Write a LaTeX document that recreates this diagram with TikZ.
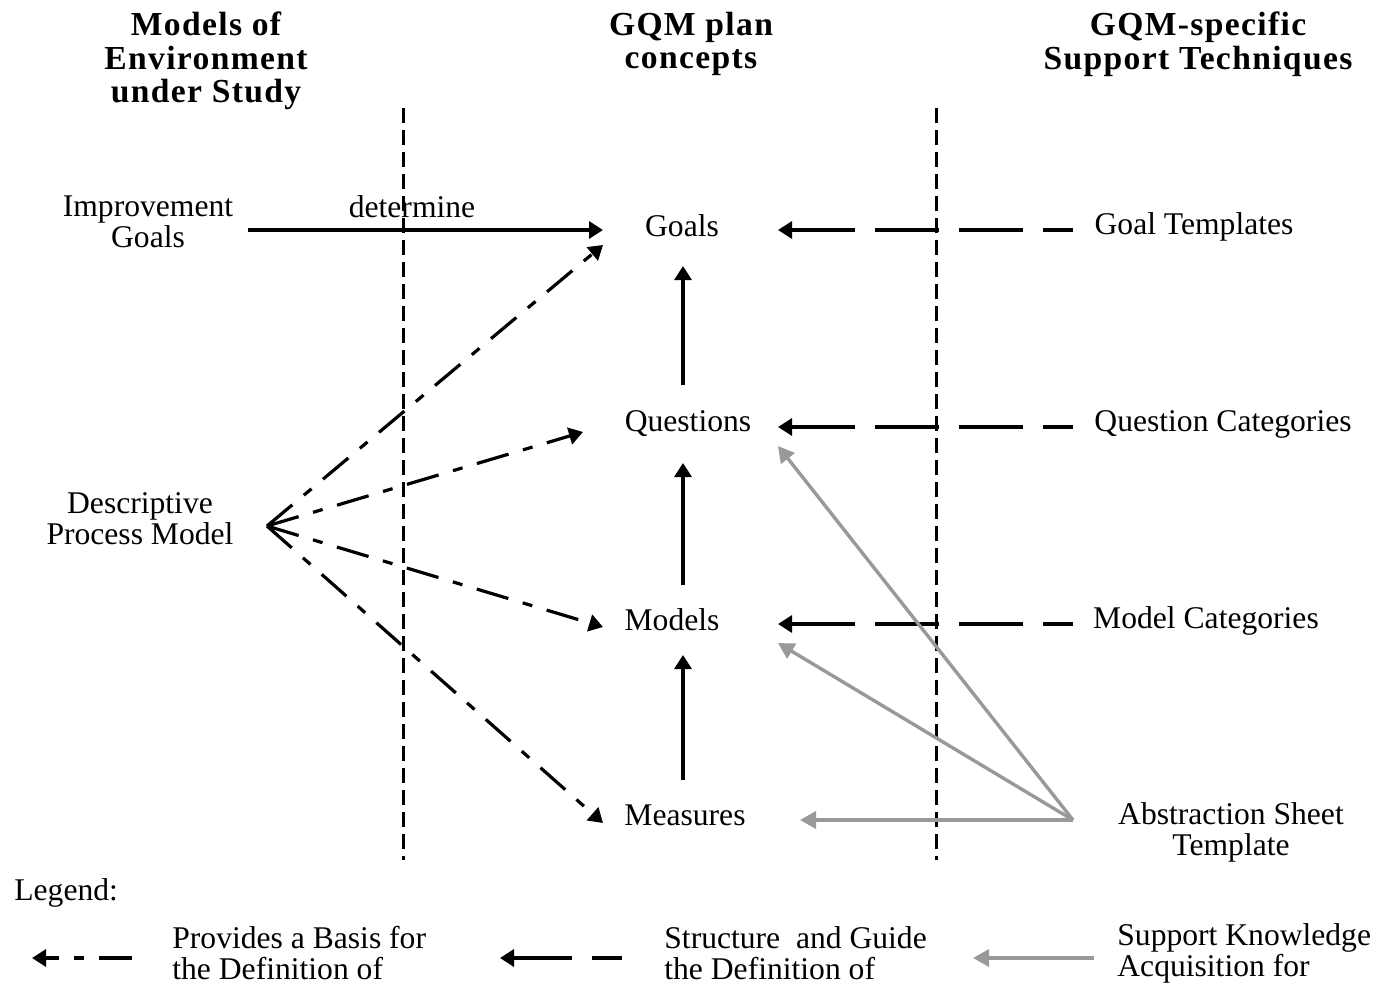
\documentclass[tikz,border=0pt]{standalone}
\usepackage{fontspec}
\setmainfont{Liberation Serif}
\usetikzlibrary{arrows.meta,calc}
\definecolor{supgray}{RGB}{153,153,153}
\begin{document}
\begin{tikzpicture}[x=0.5pt,y=-0.5pt,
  lbl/.style={font=\fontsize{15.8}{15.5}\selectfont, inner sep=0pt, align=center},
  lleft/.style={lbl, align=left, anchor=west},
  hdr/.style={font=\fontsize{16.8}{16.8}\selectfont\bfseries\addfontfeature{LetterSpace=4}, inner sep=0pt, align=center},
  sepline/.style={line width=1.5pt, dash pattern=on 7.5pt off 3.5pt},
  solidarrow/.style={line width=1.6pt, -{Triangle[length=7pt,width=8.5pt]}},
  guide/.style={solidarrow, dash pattern=on 32pt off 10pt, dash phase=17pt},
  basis/.style={solidarrow, dash pattern=on 16.5pt off 7.5pt on 5pt off 7.5pt},
  support/.style={line width=1.7pt, draw=supgray, -{Triangle[length=8pt,width=8.5pt,fill=supgray]}}
]
\useasboundingbox (0,0) rectangle (1386,985);

% headers
\node[hdr] (H1) at (206,61) {Models of\\Environment\\under Study};
\node[hdr] (H2) at (691,44) {GQM plan\\concepts};
\node[hdr] (H3) at (1198,44) {GQM-specific\\Support Techniques};

% separators
\draw[sepline] (403,108) -- (403,860);
\draw[sepline] (936,108) -- (936,860);

% left column
\node[lbl] (IG) at (148,222) {Improvement\\Goals};
\node[lbl] (DPM) at (140,519) {Descriptive\\Process Model};

% middle column
\node[lbl] (Goals) at (682,226) {Goals};
\node[lbl] (Questions) at (688,424) {Questions};
\node[lbl] (Models) at (672,620) {Models};
\node[lbl] (Measures) at (685,815) {Measures};

% right column
\node[lbl] (GT) at (1194,227) {Goal Templates};
\node[lbl] (QC) at (1223,424) {Question Categories};
\node[lbl] (MC) at (1206,621) {Model Categories};
\node[lbl] (AST) at (1231,832) {Abstraction Sheet\\Template};

% determine
\node[lbl] (det) at (412,207) {determine};
\draw[solidarrow] ($(IG)+(100,8)$) -- ($(Goals)+(-79,4)$);

% vertical hierarchy
\draw[solidarrow] ($(Questions)+(-5,-39)$) -- ($(Goals)+(1,40)$);
\draw[solidarrow] ($(Models)+(11,-35)$) -- ($(Questions)+(-5,39)$);
\draw[solidarrow] ($(Measures)+(-2,-35)$) -- ($(Models)+(11,35)$);

% support techniques (structure and guide)
\draw[guide] ($(GT)+(-121,3)$) -- ($(Goals)+(96,4)$);
\draw[guide] ($(QC)+(-150,3)$) -- ($(Questions)+(90,3)$);
\draw[guide] ($(MC)+(-133,3)$) -- ($(Models)+(106,4)$);

% abstraction sheet (support knowledge acquisition)
\draw[support] ($(AST)+(-158,-12)$) -- ($(Questions)+(90,22)$);
\draw[support] ($(AST)+(-158,-12)$) -- ($(Models)+(106,23)$);
\draw[support] ($(AST)+(-158,-12)$) -- ($(Measures)+(115,5)$);

% descriptive process model (provides a basis)
\draw[basis] ($(DPM)+(127,7)$) -- ($(Goals)+(-79,19)$);
\draw[basis] ($(DPM)+(127,7)$) -- ($(Questions)+(-105,8)$);
\draw[basis] ($(DPM)+(127,7)$) -- ($(Models)+(-69,7)$);
\draw[basis] ($(DPM)+(127,7)$) -- ($(Measures)+(-82,8)$);

% legend
\node[lleft] (Leg) at (14,893) {Legend:};
\node[lleft] (L1) at (172,953) {Provides a Basis for\\the Definition of};
\node[lleft] (L2) at (664,953) {Structure~ and Guide\\the Definition of};
\node[lleft] (L3) at (1117,953) {Support Knowledge\\Acquisition for};
\draw[basis] ($(L1.west)+(-40,5)$) -- ($(L1.west)+(-140,5)$);
\draw[guide] ($(L2.west)+(-42,5)$) -- ($(L2.west)+(-164,5)$);
\draw[support] ($(L3.west)+(-23,5)$) -- ($(L3.west)+(-144,5)$);
\end{tikzpicture}
\end{document}
